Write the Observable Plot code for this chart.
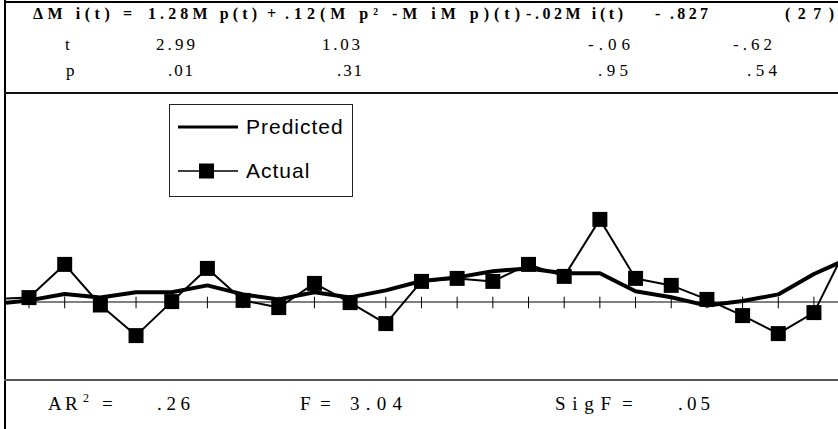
<!DOCTYPE html>
<html>
<head>
<meta charset="utf-8">
<script src="https://cdn.jsdelivr.net/npm/d3@7"></script>
<script src="https://cdn.jsdelivr.net/npm/@observablehq/plot@0.6"></script>
<style>
  html, body { margin: 0; padding: 0; background: #fff; }
  #page { position: relative; width: 838px; height: 429px; overflow: hidden; background: #fff; }
  #bg, #legend { position: absolute; left: 0; top: 0; }
  #chart { position: absolute; left: 6px; top: 95px; }
</style>
</head>
<body>
<div id="page">
  <svg id="bg" width="838" height="429">
    <line x1="5" y1="0" x2="5" y2="429" stroke="#000" stroke-width="2"/>
    <line x1="4" y1="2" x2="838" y2="2" stroke="#000" stroke-width="2"/>
    <line x1="4" y1="93" x2="838" y2="93" stroke="#111" stroke-width="2"/>
    <line x1="4" y1="380" x2="838" y2="380" stroke="#555" stroke-width="2"/>
    <g id="eq" font-weight="bold" font-size="16"></g>
    <g id="rows" font-size="17"></g>
    <g id="foot" font-size="19"></g>
  </svg>
  <div id="chart"></div>
  <svg id="legend" width="838" height="429" style="pointer-events:none">
    <rect x="169.5" y="104.5" width="183" height="92" fill="#fff" stroke="#222" stroke-width="1"/>
    <line x1="178" y1="127" x2="238" y2="127" stroke="#000" stroke-width="3"/>
    <text font-family="Liberation Sans" font-size="21" letter-spacing="1" x="246" y="134">Predicted</text>
    <line x1="178" y1="171" x2="238" y2="171" stroke="#000" stroke-width="1.5"/>
    <rect x="199" y="163.5" width="15" height="15" fill="#000"/>
    <text font-family="Liberation Sans" font-size="21" letter-spacing="1" x="246" y="178">Actual</text>
  </svg>
</div>
<script>
// Regression equation pieces and coefficient table
const equationParts = ["ΔM i(t) =", "1.28M p(t)", "+", ".12(M p² -M iM p)(t)", "-.02M i(t)", "-", ".827", "(27)"];
const rowLabels = ["t", "p"];
const tValues = ["2.99", "1.03", "-.06", "-.62"];
const pValues = [".01", ".31", ".95", ".54"];
const fitStats = ["A", "R", "2", "=", ".26", "F", "=", "3.04", "SigF", "=", ".05"];

// Time periods (index 0 and 24 lie just outside the visible window, as in the original)
const periods = d3.range(25);
const actual = [0.15, 0.22, 1.88, -0.15, -1.68, 0.02, 1.68, 0.08, -0.28, 0.93, -0.03, -1.08,
                1.03, 1.18, 1.03, 1.88, 1.28, 4.13, 1.18, 0.83, 0.13, -0.68, -1.58, -0.53, 3.05];
const predicted = [-0.10, 0.08, 0.40, 0.23, 0.49, 0.49, 0.83, 0.38, 0.13, 0.49, 0.23, 0.58,
                   1.05, 1.23, 1.54, 1.68, 1.44, 1.44, 0.54, 0.24, -0.18, 0.05, 0.38, 1.40, 2.20];
const tickPeriods = d3.range(1, 24);

const ns = "http://www.w3.org/2000/svg";
function addText(g, x, y, str, len, extra) {
  const t = document.createElementNS(ns, "text");
  t.setAttribute("x", x); t.setAttribute("y", y);
  t.setAttribute("font-family", "Liberation Serif");
  if (len) { t.setAttribute("textLength", len); t.setAttribute("lengthAdjust", "spacing"); }
  if (extra) for (const k in extra) t.setAttribute(k, extra[k]);
  t.textContent = str;
  g.appendChild(t);
}
const eqG = document.getElementById("eq");
const eqLayout = [[33, 99], [148, 109], [267, 0], [285, 235], [526, 97], [655, 0], [670, 38], [785, 49]];
equationParts.forEach((s, k) => addText(eqG, eqLayout[k][0], 19, s, eqLayout[k][1]));

const rowsG = document.getElementById("rows");
const colX = [[156, 39], [322, 38], [588, 42], [733, 39]];
const colXp = [[168, 25], [337, 25], [598, 30], [747, 30]];
addText(rowsG, 65, 49.5, rowLabels[0]);
addText(rowsG, 66, 76, rowLabels[1]);
tValues.forEach((v, k) => addText(rowsG, colX[k][0], 49.5, v, colX[k][1]));
pValues.forEach((v, k) => addText(rowsG, colXp[k][0], 76, v, colXp[k][1]));

const footG = document.getElementById("foot");
const footLayout = [[48, 410, 0], [65, 410, 0], [83, 402, 0, {"font-size": 12}], [102, 410, 0], [157, 410, 33],
                    [300, 410, 0], [320, 410, 0], [350, 410, 52], [555, 410, 56], [622, 410, 0], [678, 410, 32]];
fitStats.forEach((s, k) => addText(footG, footLayout[k][0], footLayout[k][1], s, footLayout[k][2], footLayout[k][3]));

const data = periods.map(i => ({period: i, actual: actual[i], predicted: predicted[i]}));

const chart = Plot.plot({
  width: 832,
  height: 284,
  margin: 0,
  x: {type: "linear", domain: [0.3694, 23.688], axis: null},
  y: {domain: [-3.875, 10.325], axis: null},
  marks: [
    Plot.ruleY([0], {stroke: "#808080", strokeWidth: 2}),
    Plot.ruleX(tickPeriods, {x: d => d, y1: 0.24, y2: -0.34, stroke: "#000", strokeWidth: 1}),
    Plot.line(data, {x: "period", y: "predicted", stroke: "#000", strokeWidth: 4, clip: true}),
    Plot.line(data, {x: "period", y: "actual", stroke: "#000", strokeWidth: 2, clip: true}),
    Plot.dot(data, {x: "period", y: "actual", symbol: "square", r: 8.46, fill: "#000", stroke: "none", clip: true})
  ]
});
document.getElementById("chart").appendChild(chart);
</script>
</body>
</html>
